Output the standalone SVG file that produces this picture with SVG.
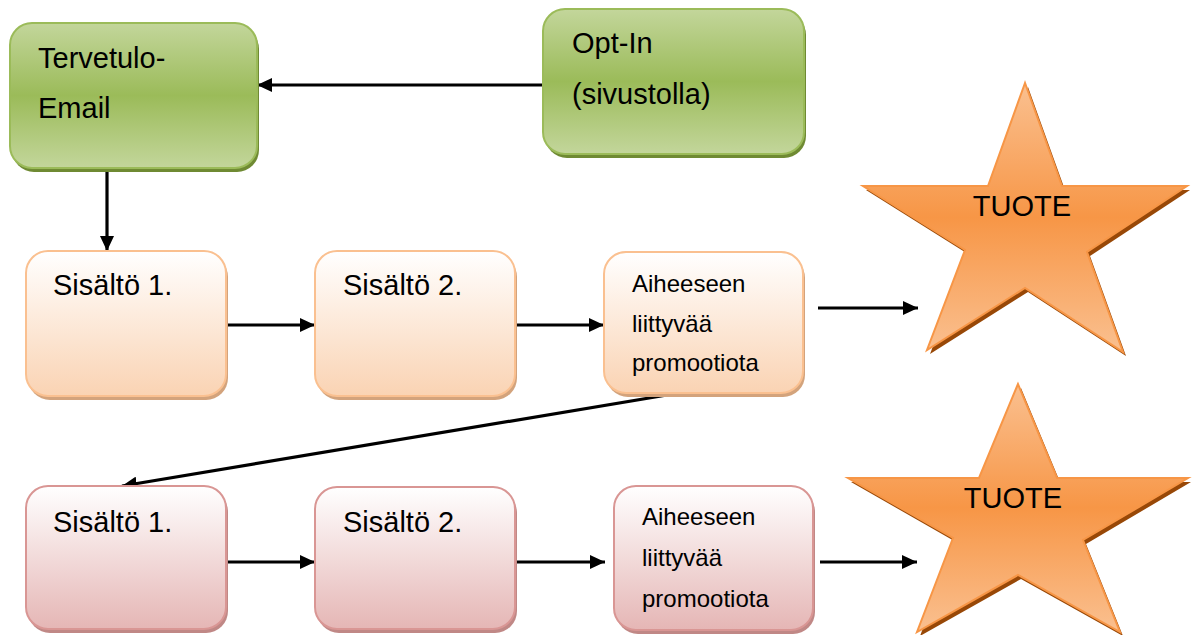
<svg xmlns="http://www.w3.org/2000/svg" width="1195" height="635" viewBox="0 0 1195 635">
<style>
text{font-family:"Liberation Sans",Arial,sans-serif;fill:#000}
.big{font-size:29px}
.small{font-size:24px}
.edge{stroke:#000;stroke-width:3.2;fill:none;marker-end:url(#arr)}
.gshadow{fill:#6f8a33}
.oshadow{fill:#d3a37c}
.pshadow{fill:#c08886}
.sshadow{fill:#984807}
</style>
<defs>
<marker id="arr" markerUnits="userSpaceOnUse" markerWidth="16" markerHeight="14" refX="15" refY="7" orient="auto">
<path d="M0,0 L15,7 L0,14 z" fill="#000"/>
</marker>
<linearGradient id="gGreen" x1="0" y1="0" x2="0" y2="1">
<stop offset="0" stop-color="#c3d69b"/>
<stop offset="0.5" stop-color="#9bbb59"/>
<stop offset="1" stop-color="#c3d69b"/>
</linearGradient>
<linearGradient id="gOrange" x1="0" y1="0" x2="0" y2="1">
<stop offset="0" stop-color="#ffffff"/>
<stop offset="1" stop-color="#fad3b3"/>
</linearGradient>
<linearGradient id="gPink" x1="0" y1="0" x2="0" y2="1">
<stop offset="0" stop-color="#ffffff"/>
<stop offset="1" stop-color="#e5b6b5"/>
</linearGradient>
<linearGradient id="gStar" x1="0" y1="0" x2="0" y2="1">
<stop offset="0" stop-color="#fac090"/>
<stop offset="0.5" stop-color="#f79646"/>
<stop offset="1" stop-color="#fac090"/>
</linearGradient>
</defs>

<g id="connectors">
<line class="edge" x1="543" y1="85" x2="257" y2="85"/>
<line class="edge" x1="107" y1="168" x2="107" y2="251"/>
<line class="edge" x1="226" y1="325" x2="315" y2="325"/>
<line class="edge" x1="515" y1="325" x2="604" y2="325"/>
<line class="edge" x1="818" y1="308" x2="918" y2="308"/>
<line class="edge" x1="673" y1="394" x2="122" y2="486"/>
<line class="edge" x1="226" y1="562" x2="315" y2="562"/>
<line class="edge" x1="517" y1="562" x2="605" y2="562"/>
<line class="edge" x1="820" y1="562" x2="917" y2="562"/>
</g>

<g id="tervetulo">
<rect class="gshadow" x="12" y="27" width="247" height="145" rx="22"/>
<rect x="10" y="23" width="247" height="145" rx="22" fill="url(#gGreen)" stroke="#9bbb59" stroke-width="2"/>
<text class="big" x="38" y="68">Tervetulo-</text>
<text class="big" x="38" y="118">Email</text>
</g>

<g id="optin">
<rect class="gshadow" x="545" y="13" width="261" height="145" rx="22"/>
<rect x="543" y="9" width="261" height="145" rx="22" fill="url(#gGreen)" stroke="#9bbb59" stroke-width="2"/>
<text class="big" x="572" y="53">Opt-In</text>
<text class="big" x="572" y="104">(sivustolla)</text>
</g>

<g id="sisalto1a">
<rect class="oshadow" x="28" y="255" width="200" height="145" rx="22"/>
<rect x="26" y="251" width="200" height="145" rx="22" fill="url(#gOrange)" stroke="#fac090" stroke-width="2"/>
<text class="big" x="53" y="295">Sisältö 1.</text>
</g>

<g id="sisalto2a">
<rect class="oshadow" x="317" y="255" width="200" height="145" rx="22"/>
<rect x="315" y="251" width="200" height="145" rx="22" fill="url(#gOrange)" stroke="#fac090" stroke-width="2"/>
<text class="big" x="343" y="295">Sisältö 2.</text>
</g>

<g id="promoa">
<rect class="oshadow" x="606" y="256" width="199" height="141" rx="22"/>
<rect x="604" y="252" width="199" height="141" rx="22" fill="url(#gOrange)" stroke="#fac090" stroke-width="2"/>
<text class="small" x="632" y="292">Aiheeseen</text>
<text class="small" x="632" y="332">liittyvää</text>
<text class="small" x="632" y="371">promootiota</text>
</g>

<g id="tuote1">
<polygon class="sshadow" points="1025,83 988,186 863,186 965,250 927,350 1025,288 1123,352 1087,252 1187,186 1062,186" transform="translate(3,4)"/>
<polygon points="1025,83 988,186 863,186 965,250 927,350 1025,288 1123,352 1087,252 1187,186 1062,186" fill="url(#gStar)" stroke="#f79646" stroke-width="2"/>
<text class="big" x="1022" y="216" text-anchor="middle">TUOTE</text>
</g>

<g id="sisalto1b">
<rect class="pshadow" x="28" y="490" width="200" height="143" rx="22"/>
<rect x="26" y="486" width="200" height="143" rx="22" fill="url(#gPink)" stroke="#d99694" stroke-width="2"/>
<text class="big" x="53" y="532">Sisältö 1.</text>
</g>

<g id="sisalto2b">
<rect class="pshadow" x="317" y="491" width="200" height="142" rx="22"/>
<rect x="315" y="487" width="200" height="142" rx="22" fill="url(#gPink)" stroke="#d99694" stroke-width="2"/>
<text class="big" x="343" y="532">Sisältö 2.</text>
</g>

<g id="promob">
<rect class="pshadow" x="616" y="490" width="199" height="144" rx="22"/>
<rect x="614" y="486" width="199" height="144" rx="22" fill="url(#gPink)" stroke="#d99694" stroke-width="2"/>
<text class="small" x="642" y="525">Aiheeseen</text>
<text class="small" x="642" y="566">liittyvää</text>
<text class="small" x="642" y="607">promootiota</text>
</g>

<g id="tuote2">
<polygon class="sshadow" points="1018,384 979,478 848,478 953,538 917,632 1018,575 1120,632 1083,540 1188,478 1057,478" transform="translate(3,4)"/>
<polygon points="1018,384 979,478 848,478 953,538 917,632 1018,575 1120,632 1083,540 1188,478 1057,478" fill="url(#gStar)" stroke="#f79646" stroke-width="2"/>
<text class="big" x="1013" y="508" text-anchor="middle">TUOTE</text>
</g>
</svg>
